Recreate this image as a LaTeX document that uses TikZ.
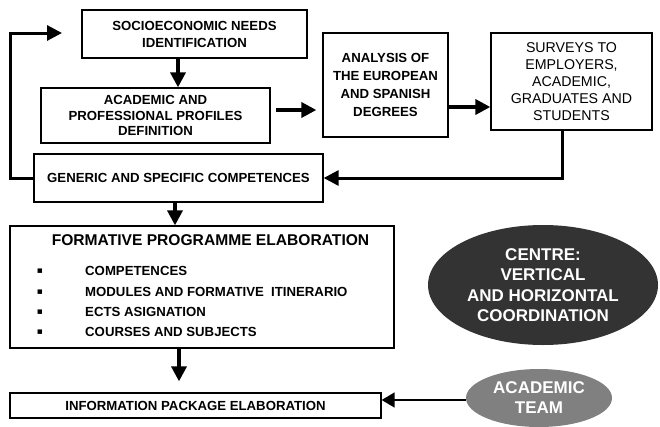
\documentclass[tikz,border=0pt]{standalone}
\usepackage{fontspec}
\setmainfont{Liberation Sans}
\newfontfamily\dejavu{DejaVu Sans}
\usetikzlibrary{arrows.meta,shapes.geometric}
\definecolor{darkfill}{HTML}{333333}
\definecolor{midfill}{HTML}{808080}
\begin{document}
\begin{tikzpicture}[x=1pt,y=-1pt,
  box/.style={draw,line width=1.3pt,rectangle,inner sep=0pt,align=center},
  fmain/.style={font=\bfseries\fontsize{13.2}{#1}\selectfont},
  big/.style={line width=3.5pt,-{Triangle[length=15pt,width=15pt]}},
  thin/.style={line width=1.6pt,-{Triangle[length=13pt,width=15pt]}},
  loopline/.style={line width=3pt,-{Triangle[length=15pt,width=15pt]}},
  bul/.style={font=\dejavu\fontsize{9}{9}\selectfont,inner sep=0pt},
  item/.style={anchor=west,inner sep=0pt,font=\bfseries\fontsize{13.2}{16}\selectfont}]
\useasboundingbox (0,0) rectangle (660,426);

% boxes
\node[box,fmain=17,minimum width=225pt,minimum height=48pt] (socio) at (194.5,34)
  {SOCIOECONOMIC NEEDS\\IDENTIFICATION};
\node[box,fmain=15.5,minimum width=229pt,minimum height=55pt] (acad) at (155.5,115.5)
  {ACADEMIC AND\\PROFESSIONAL PROFILES\\DEFINITION};
\node[box,fmain=16,minimum width=289pt,minimum height=48pt] (generic) at (178.5,178)
  {GENERIC AND SPECIFIC COMPETENCES};
\node[box,fmain=18,minimum width=125pt,minimum height=104pt] (analysis) at (385.5,85)
  {ANALYSIS OF\\THE EUROPEAN\\AND SPANISH\\DEGREES};
\node[box,font=\fontsize{14.2}{17}\selectfont,minimum width=161pt,minimum height=97pt] (surveys) at (571.5,81.5)
  {SURVEYS TO\\EMPLOYERS,\\ACADEMIC,\\GRADUATES AND\\STUDENTS};
\node[box,minimum width=384pt,minimum height=122pt] (formative) at (202,287) {};
\node[box,fmain=16,minimum width=371pt,minimum height=25pt] (info) at (195.5,405.5)
  {INFORMATION PACKAGE ELABORATION};

% formative contents
\node[font=\bfseries\fontsize{15.6}{18}\selectfont,inner sep=0pt] (ftitle) at (210.5,240)
  {FORMATIVE PROGRAMME ELABORATION};
\node[bul] (b1) at (40,271) {▪};
\node[bul] (b2) at (40,292) {▪};
\node[bul] (b3) at (40,312) {▪};
\node[bul] (b4) at (40,332) {▪};
\node[item] (i1) at (85,271) {COMPETENCES};
\node[item] (i2) at (85,292) {MODULES AND FORMATIVE\ \ ITINERARIO};
\node[item] (i3) at (85,312) {ECTS ASIGNATION};
\node[item] (i4) at (85,332) {COURSES AND SUBJECTS};

% ellipses
\node[ellipse,fill=darkfill,text=white,inner sep=0pt,minimum width=230pt,minimum height=120pt,
  align=center,font=\bfseries\fontsize{17}{20.5}\selectfont] (centre) at (543,285)
  {CENTRE:\\VERTICAL\\AND HORIZONTAL\\COORDINATION};
\node[ellipse,fill=midfill,text=white,inner sep=0pt,minimum width=146pt,minimum height=58pt,
  align=center,font=\bfseries\fontsize{17}{20}\selectfont] (team) at (539,398)
  {ACADEMIC\\TEAM};

% helper coordinates
\coordinate (xa) at (178,0);
\coordinate (xb) at (175,0);
\coordinate (xc) at (179,0);
\coordinate (xs) at (562,0);
\coordinate (ya) at (0,110);
\coordinate (yb) at (0,107);
\coordinate (yl) at (0,33);
\coordinate (yt) at (0,400);
\coordinate (lx) at (10,0);
\coordinate (loopend) at (62,33);

% connectors
\draw[big] (socio.south -| xa) -- (acad.north -| xa);
\draw[big] ([xshift=5pt]acad.east |- ya) -- ([xshift=-6pt]analysis.west |- ya);
\draw[big] (analysis.east |- yb) -- (surveys.west |- yb);
\draw[loopline] (surveys.south -| xs) |- (generic.east);
\draw[loopline] (generic.west) -| (lx |- yl) -- (loopend);
\draw[big] (generic.south -| xb) -- (formative.north -| xb);
\draw[big] (formative.south -| xc) -- ([yshift=11pt]info.north -| xc);
\draw[thin] (team.west |- yt) -- (info.east |- yt);
\end{tikzpicture}
\end{document}
